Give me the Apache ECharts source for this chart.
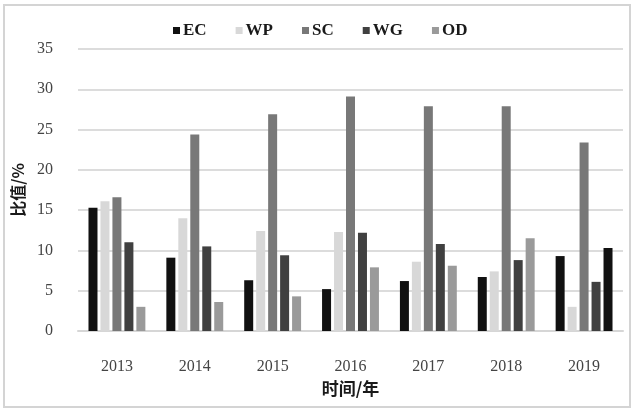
<!DOCTYPE html>
<html>
<head>
<meta charset="utf-8">
<script src="https://cdn.jsdelivr.net/npm/echarts@6/dist/echarts.min.js"></script>
<style>html,body{margin:0;padding:0;background:#fff;}#c{width:640px;height:415px;}</style>
</head>
<body>
<div id="c"></div>
<script>
var categories = ['2013', '2014', '2015', '2016', '2017', '2018', '2019'];
var seriesNames = ['EC', 'WP', 'SC', 'WG', 'OD'];
var ecValues = [15.3, 9.1, 6.3, 5.2, 6.2, 6.7, 9.3];
var wpValues = [16.1, 14.0, 12.4, 12.3, 8.6, 7.4, 3.0];
var scValues = [16.6, 24.4, 26.9, 29.1, 27.9, 27.9, 23.4];
var wgValues = [11.0, 10.5, 9.4, 12.2, 10.8, 8.8, 6.1];
var odValues = [3.0, 3.6, 4.3, 7.9, 8.1, 11.5, 10.3];
var yTicks = [0, 5, 10, 15, 20, 25, 30, 35];

var colors = ['#111111', '#d8d8d8', '#787878', '#404040', '#9a9a9a'];
var allValues = [ecValues, wpValues, scValues, wgValues, odValues];

var series = seriesNames.map(function (name, i) {
  var data = allValues[i].map(function (v, j) {
    if (name === 'OD' && j === categories.length - 1) {
      return { value: v, itemStyle: { color: '#111111' } };
    }
    return v;
  });
  return {
    name: name,
    type: 'bar',
    barWidth: 9,
    barGap: '33%',
    itemStyle: { color: colors[i] },
    data: data
  };
});

var chart = echarts.init(document.getElementById('c'), null, { renderer: 'canvas' });
chart.setOption({
  backgroundColor: '#ffffff',
  animation: false,
  color: colors,
  graphic: [{
    type: 'rect',
    shape: { x: 4, y: 5, width: 626, height: 402 },
    style: { fill: 'none', stroke: '#d4d4d4', lineWidth: 2 },
    silent: true
  }],
  legend: {
    data: seriesNames,
    left: 168,
    top: 17,
    itemWidth: 7,
    itemHeight: 7,
    itemGap: 29,
    icon: 'rect',
    textStyle: {
      fontFamily: 'Liberation Serif',
      fontWeight: 'bold',
      fontSize: 17,
      color: '#1a1a1a',
      padding: [0, 0, 0, -2]
    }
  },
  grid: { left: 78, right: 17, top: 49, bottom: 84 },
  xAxis: {
    type: 'category',
    data: categories,
    name: '时间/年',
    nameLocation: 'middle',
    nameGap: 39,
    nameTextStyle: {
      fontFamily: 'Noto Sans CJK SC',
      fontWeight: 'bold',
      fontSize: 17,
      color: '#1a1a1a'
    },
    axisLine: { show: true, lineStyle: { color: '#d6d6d6', width: 2 } },
    axisTick: { show: false },
    axisLabel: {
      margin: 28,
      fontFamily: 'Liberation Serif',
      fontSize: 16,
      color: '#444444'
    }
  },
  yAxis: {
    type: 'value',
    min: 0,
    max: 35,
    interval: 5,
    name: '比值/%',
    nameLocation: 'middle',
    nameGap: 52,
    nameRotate: 90,
    nameTextStyle: {
      fontFamily: 'Noto Sans CJK SC',
      fontWeight: 'bold',
      fontSize: 16,
      color: '#1a1a1a'
    },
    axisLine: { show: false },
    axisTick: { show: false },
    splitLine: { lineStyle: { color: '#dcdcdc', width: 2 } },
    axisLabel: {
      margin: 25,
      fontFamily: 'Liberation Serif',
      fontSize: 16,
      color: '#444444',
      formatter: function (v) { return yTicks.indexOf(v) >= 0 ? String(v) : ''; }
    }
  },
  series: series
});
</script>
</body>
</html>
